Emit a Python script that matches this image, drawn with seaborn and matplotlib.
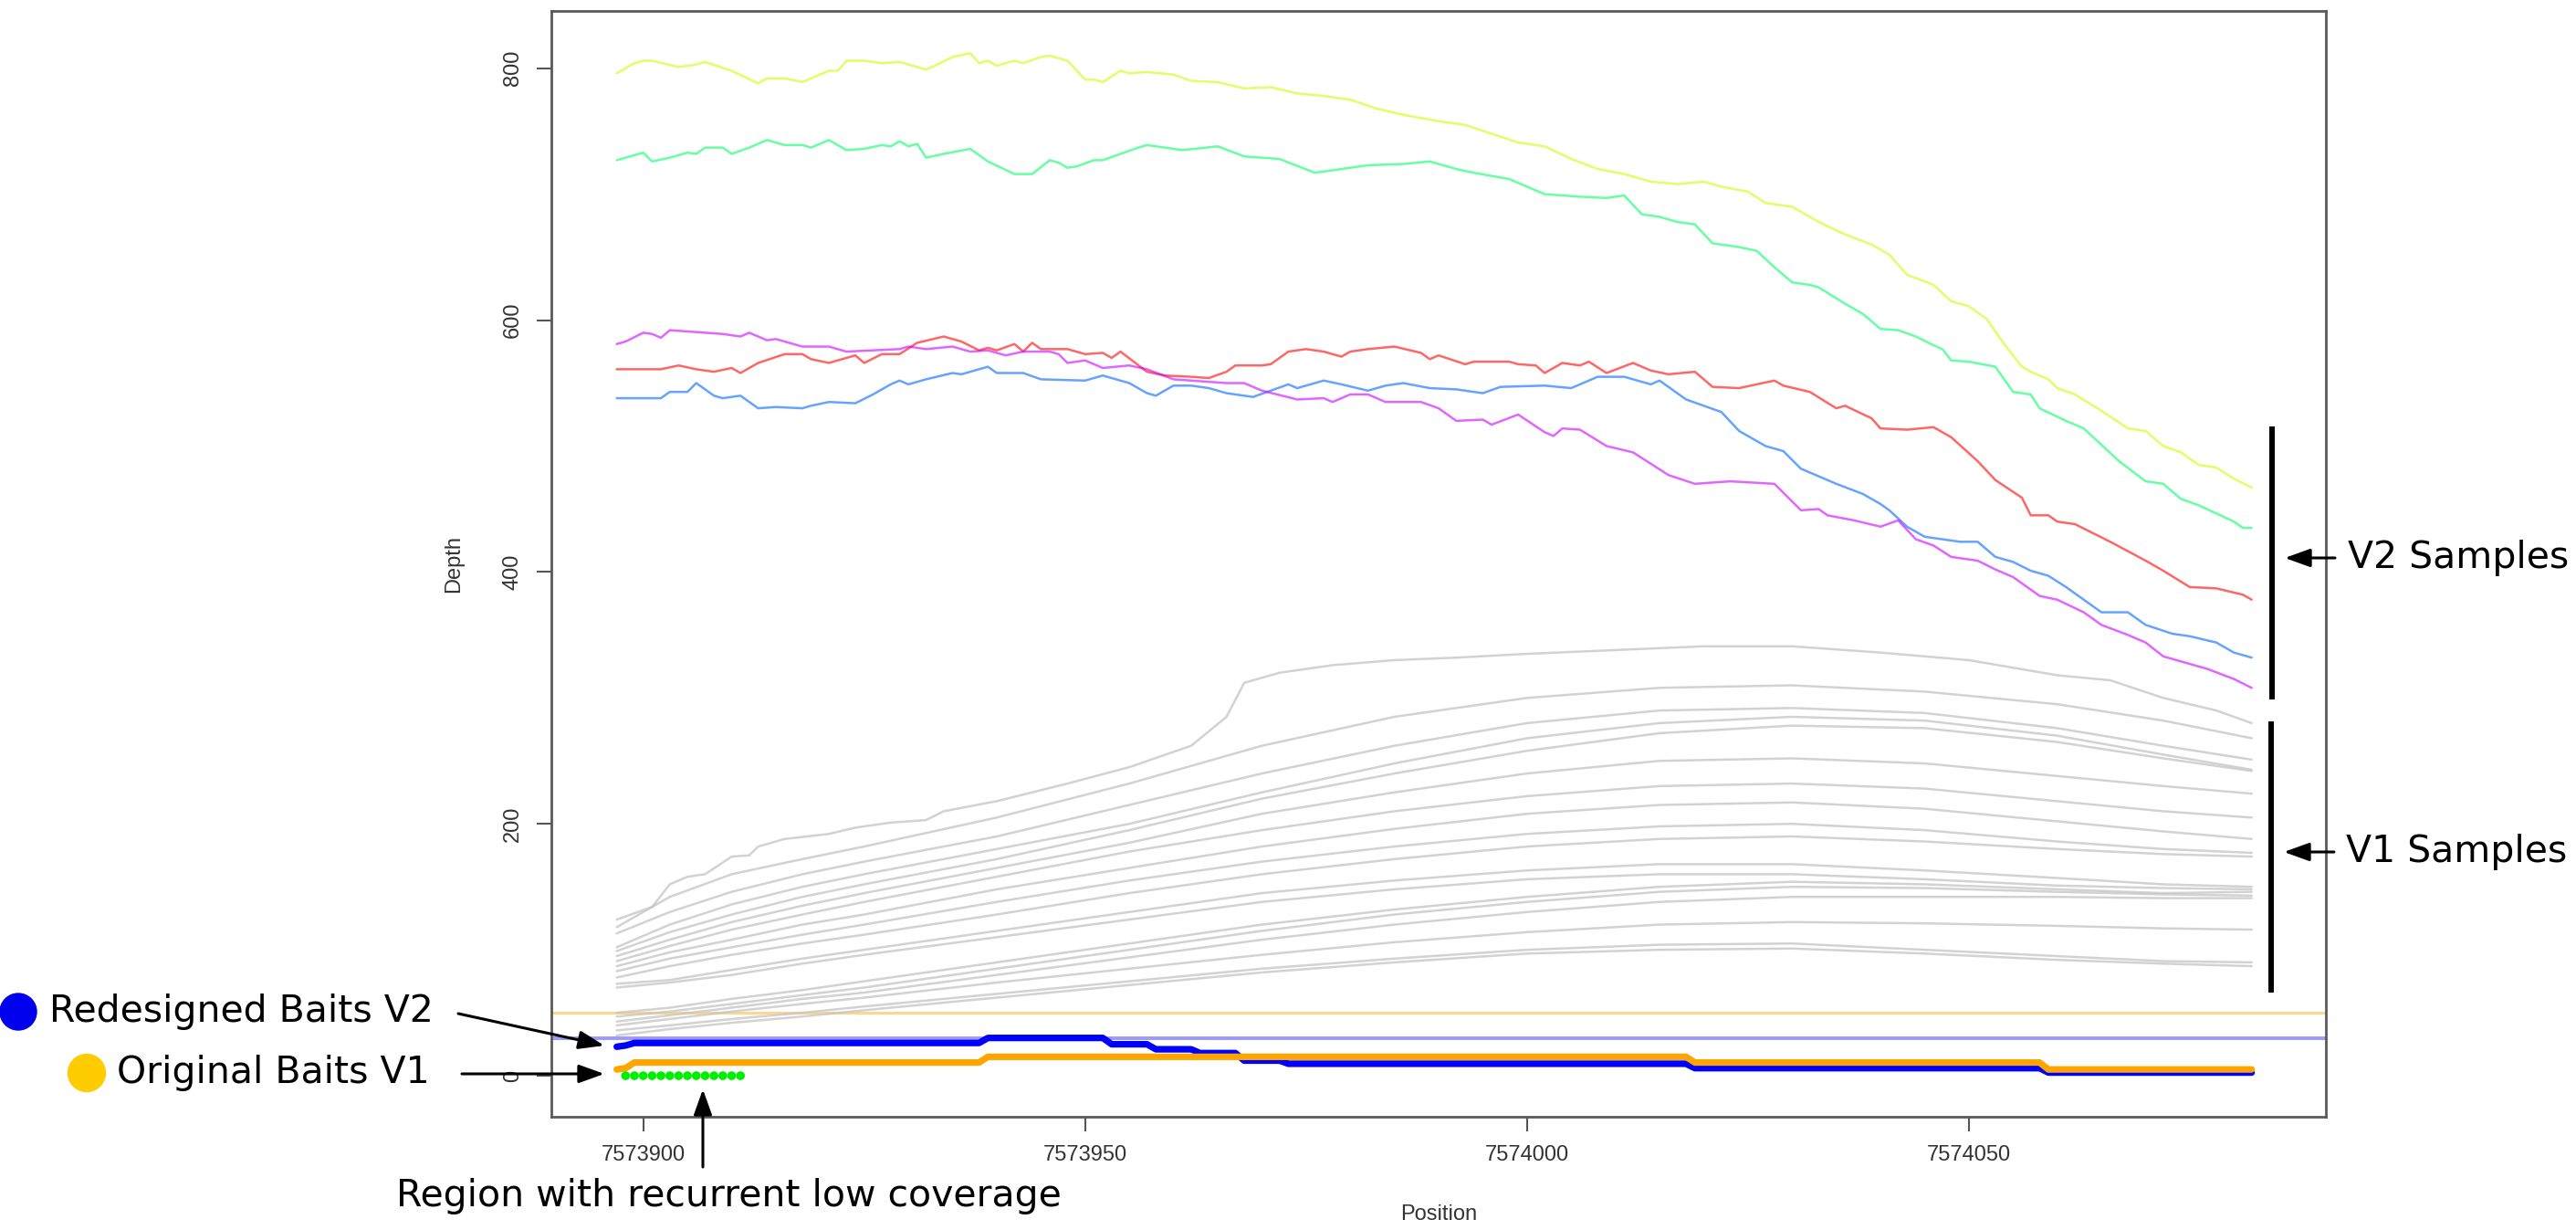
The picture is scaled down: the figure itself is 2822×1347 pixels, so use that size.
import numpy as np
import pandas as pd
import matplotlib
matplotlib.use('Agg')
import matplotlib.pyplot as plt
import seaborn as sns
from matplotlib.patches import Ellipse
from matplotlib.lines import Line2D

W, H = 2822, 1347

# ---- V2 samples (coloured lines) ----
yellow_pos = [7573897, 7573899, 7573900, 7573901, 7573904, 7573906, 7573907, 7573910, 7573913, 7573914,
              7573916, 7573918, 7573921, 7573922, 7573923, 7573925, 7573927, 7573929, 7573932, 7573933,
              7573935, 7573937, 7573938, 7573939, 7573940, 7573942, 7573943, 7573945, 7573946, 7573948,
              7573950, 7573951, 7573952, 7573954, 7573955, 7573957, 7573960, 7573962, 7573965, 7573968,
              7573971, 7573974, 7573977, 7573980, 7573983, 7573986, 7573990, 7573993, 7573996, 7573999,
              7574002, 7574005, 7574008, 7574011, 7574014, 7574017, 7574020, 7574022, 7574025, 7574027,
              7574030, 7574033, 7574036, 7574039, 7574041, 7574043, 7574046, 7574048, 7574050, 7574052,
              7574054, 7574056, 7574057, 7574059, 7574060, 7574062, 7574065, 7574068, 7574070, 7574072,
              7574074, 7574076, 7574078, 7574080, 7574082]
yellow_depth = [796, 804, 806, 806, 801, 803, 805, 798, 788, 792,
                792, 789, 798, 798, 806, 806, 804, 805, 799, 802,
                809, 812, 804, 806, 802, 806, 804, 809, 810, 806,
                791, 791, 789, 798, 796, 797, 795, 790, 789, 784,
                785, 780, 778, 775, 768, 763, 758, 755, 748, 741,
                738, 728, 720, 716, 710, 708, 710, 706, 702, 693,
                690, 678, 668, 660, 652, 636, 628, 615, 611, 601,
                581, 563, 559, 553, 546, 541, 528, 514, 512, 500,
                495, 485, 483, 474, 467]

green_pos = [7573897, 7573900, 7573901, 7573903, 7573905, 7573906, 7573907, 7573909, 7573910, 7573912,
             7573914, 7573916, 7573918, 7573919, 7573921, 7573923, 7573925, 7573927, 7573928, 7573929,
             7573930, 7573931, 7573932, 7573934, 7573937, 7573939, 7573942, 7573944, 7573946, 7573947,
             7573948, 7573949, 7573951, 7573952, 7573954, 7573956, 7573957, 7573961, 7573965, 7573968,
             7573972, 7573976, 7573979, 7573982, 7573986, 7573989, 7573992, 7573994, 7573998, 7574002,
             7574006, 7574009, 7574011, 7574013, 7574015, 7574017, 7574019, 7574021, 7574024, 7574026,
             7574028, 7574030, 7574032, 7574033, 7574036, 7574038, 7574040, 7574042, 7574044, 7574046,
             7574047, 7574048, 7574050, 7574053, 7574055, 7574057, 7574058, 7574061, 7574063, 7574065,
             7574067, 7574070, 7574072, 7574074, 7574076, 7574080, 7574081, 7574082]
green_depth = [727, 733, 726, 729, 733, 732, 737, 737, 732, 737,
               743, 739, 739, 737, 743, 735, 736, 739, 738, 742,
               738, 740, 729, 732, 736, 726, 716, 716, 727, 725,
               721, 722, 727, 727, 732, 737, 739, 735, 738, 730,
               728, 717, 720, 723, 724, 726, 720, 717, 712, 700,
               698, 697, 699, 684, 682, 678, 676, 661, 658, 655,
               642, 630, 628, 626, 613, 605, 593, 592, 587, 580,
               577, 568, 567, 563, 543, 541, 530, 520, 514, 501,
               488, 472, 470, 458, 453, 440, 435, 435]

red_pos = [7573897, 7573902, 7573904, 7573906, 7573908, 7573910, 7573911, 7573913, 7573916, 7573918,
           7573919, 7573921, 7573923, 7573924, 7573925, 7573927, 7573929, 7573931, 7573934, 7573936,
           7573938, 7573939, 7573940, 7573942, 7573943, 7573944, 7573945, 7573948, 7573950, 7573952,
           7573953, 7573954, 7573957, 7573959, 7573962, 7573964, 7573966, 7573967, 7573970, 7573971,
           7573973, 7573975, 7573977, 7573979, 7573980, 7573982, 7573985, 7573988, 7573989, 7573990,
           7573993, 7573994, 7573998, 7573999, 7574001, 7574002, 7574004, 7574006, 7574007, 7574009,
           7574012, 7574014, 7574016, 7574019, 7574021, 7574024, 7574028, 7574029, 7574032, 7574035,
           7574036, 7574039, 7574040, 7574043, 7574046, 7574048, 7574051, 7574053, 7574056, 7574057,
           7574059, 7574060, 7574062, 7574066, 7574070, 7574072, 7574075, 7574078, 7574081, 7574082]
red_depth = [561, 561, 564, 561, 559, 562, 558, 566, 573, 573,
             569, 566, 570, 572, 566, 573, 573, 582, 587, 583,
             576, 578, 576, 581, 575, 582, 577, 577, 573, 574,
             570, 575, 559, 556, 555, 554, 559, 564, 564, 565,
             575, 577, 575, 571, 575, 577, 579, 574, 569, 572,
             565, 567, 567, 565, 564, 558, 566, 564, 567, 558,
             566, 560, 557, 559, 547, 546, 552, 548, 543, 530,
             532, 522, 514, 513, 515, 507, 488, 473, 459, 445,
             445, 440, 438, 424, 409, 401, 388, 387, 382, 378]

blue_pos = [7573897, 7573902, 7573903, 7573905, 7573906, 7573908, 7573909, 7573911, 7573913, 7573915,
            7573918, 7573919, 7573921, 7573924, 7573926, 7573928, 7573929, 7573930, 7573932, 7573935,
            7573936, 7573939, 7573940, 7573943, 7573945, 7573950, 7573952, 7573954, 7573955, 7573957,
            7573958, 7573960, 7573962, 7573964, 7573966, 7573969, 7573971, 7573973, 7573974, 7573977,
            7573979, 7573982, 7573984, 7573986, 7573989, 7573992, 7573995, 7573997, 7574002, 7574005,
            7574008, 7574011, 7574014, 7574015, 7574018, 7574022, 7574024, 7574027, 7574029, 7574031,
            7574035, 7574038, 7574040, 7574041, 7574043, 7574045, 7574049, 7574051, 7574053, 7574055,
            7574057, 7574059, 7574061, 7574065, 7574068, 7574070, 7574073, 7574075, 7574078, 7574080,
            7574082]
blue_depth = [538, 538, 543, 543, 550, 540, 538, 540, 530, 531,
              530, 532, 535, 534, 541, 549, 552, 549, 553, 558,
              557, 563, 558, 558, 553, 552, 556, 552, 550, 542,
              540, 548, 548, 546, 542, 539, 544, 549, 546, 552,
              549, 544, 548, 550, 546, 545, 542, 547, 548, 546,
              555, 555, 549, 552, 537, 527, 512, 500, 496, 482,
              470, 462, 454, 449, 436, 428, 424, 424, 412, 408,
              401, 397, 388, 368, 368, 358, 351, 349, 344, 336,
              332]

magenta_pos = [7573897, 7573898, 7573900, 7573901, 7573902, 7573903, 7573905, 7573907, 7573909, 7573911,
               7573912, 7573914, 7573915, 7573918, 7573921, 7573923, 7573926, 7573929, 7573930, 7573932,
               7573935, 7573937, 7573939, 7573941, 7573943, 7573946, 7573947, 7573948, 7573950, 7573952,
               7573955, 7573957, 7573960, 7573966, 7573968, 7573970, 7573974, 7573977, 7573978, 7573980,
               7573982, 7573984, 7573988, 7573990, 7573992, 7573995, 7573996, 7573999, 7574002, 7574003,
               7574004, 7574006, 7574009, 7574012, 7574016, 7574019, 7574023, 7574028, 7574031, 7574033,
               7574034, 7574037, 7574040, 7574042, 7574044, 7574046, 7574048, 7574051, 7574053, 7574055,
               7574058, 7574060, 7574063, 7574065, 7574068, 7574070, 7574072, 7574075, 7574077, 7574080,
               7574082]
magenta_depth = [581, 583, 590, 589, 586, 592, 591, 590, 589, 587,
                 590, 584, 585, 579, 579, 575, 576, 577, 579, 577,
                 579, 575, 576, 572, 575, 575, 573, 566, 568, 562,
                 564, 561, 553, 550, 550, 544, 537, 538, 535, 541,
                 541, 535, 535, 530, 520, 521, 517, 525, 511, 508,
                 514, 513, 500, 495, 477, 470, 472, 470, 449, 450,
                 445, 441, 436, 441, 426, 421, 412, 409, 402, 396,
                 381, 378, 368, 358, 350, 344, 333, 327, 323, 315,
                 308]

v2_colors = {'S1': '#CCFF00', 'S2': '#00FF66', 'S3': '#FF0000', 'S4': '#0066FF', 'S5': '#CC00FF'}

# ---- V1 samples (grey lines) ----
# top V1 sample, read in more detail
gray_top_pos = [7573897, 7573901, 7573903, 7573905, 7573907, 7573910, 7573912, 7573913, 7573916, 7573921,
                7573924, 7573928, 7573932, 7573934, 7573940, 7573948, 7573955, 7573962, 7573966, 7573968,
                7573972, 7573978, 7573985, 7573992, 7574000, 7574010, 7574020, 7574030, 7574040, 7574050,
                7574060, 7574066, 7574072, 7574078, 7574082]
gray_top_depth = [124, 134, 152, 158, 160, 174, 175, 182, 188, 192,
                  197, 201, 203, 210, 218, 232, 245, 262, 285, 312,
                  320, 326, 330, 332, 335, 338, 341, 341, 336, 330,
                  318, 314, 300, 290, 280]

# remaining V1 samples, depth at shared positions
gray_pos = [7573897, 7573903, 7573910, 7573918, 7573925, 7573940, 7573955, 7573970,
            7573985, 7574000, 7574015, 7574030, 7574045, 7574060, 7574072, 7574082]
gray_depths = [
    [118, 142, 160, 172, 182, 205, 232, 262, 285, 300, 308, 310, 305, 295, 282, 268],
    [113, 130, 146, 160, 170, 190, 215, 240, 262, 280, 290, 292, 288, 276, 262, 251],
    [102, 120, 136, 150, 160, 180, 200, 225, 248, 268, 280, 285, 282, 270, 255, 243],
    [99, 114, 128, 142, 152, 172, 195, 220, 240, 258, 272, 278, 276, 265, 252, 242],
    [95, 108, 122, 135, 145, 165, 185, 208, 225, 240, 250, 252, 248, 238, 230, 224],
    [91, 103, 116, 128, 138, 158, 178, 195, 210, 222, 230, 232, 228, 218, 210, 205],
    [87, 98, 108, 120, 128, 148, 165, 182, 196, 208, 215, 217, 212, 202, 194, 188],
    [83, 93, 102, 112, 120, 138, 155, 170, 182, 192, 198, 200, 195, 186, 180, 177],
    [78, 87, 96, 105, 112, 128, 145, 160, 172, 182, 188, 190, 186, 180, 176, 174],
    [73, 76, 84, 93, 100, 115, 130, 145, 155, 163, 168, 168, 163, 157, 152, 150],
    [70, 74, 80, 89, 96, 110, 124, 138, 148, 156, 160, 160, 156, 151, 149, 148],
    [50, 54, 61, 68, 75, 90, 105, 120, 132, 142, 150, 154, 152, 148, 145, 146],
    [47, 51, 57, 64, 70, 85, 100, 115, 128, 138, 146, 150, 149, 146, 144, 143],
    [43, 48, 54, 61, 66, 80, 94, 108, 120, 130, 138, 142, 142, 142, 141, 141],
    [40, 45, 51, 57, 62, 74, 85, 96, 106, 114, 120, 122, 121, 119, 117, 116],
    [36, 40, 45, 50, 55, 65, 75, 85, 93, 100, 104, 105, 100, 95, 91, 90],
    [32, 37, 42, 47, 52, 62, 72, 82, 90, 97, 100, 101, 97, 92, 89, 87],
]

# ---- bait coverage tracks ----
baits_v2_pos = [7573897, 7573898, 7573899, 7573938, 7573939, 7573952, 7573953, 7573957, 7573958,
                7573962, 7573963, 7573967, 7573968, 7573972, 7573973, 7574018, 7574019, 7574058,
                7574059, 7574082]
baits_v2_depth = [23, 24, 26, 26, 30, 30, 25, 25, 21, 21, 18, 18, 12, 12, 9.5, 9.5, 6, 6, 2.5, 2.5]
baits_v1_pos = [7573897, 7573898, 7573899, 7573938, 7573939, 7574018, 7574019, 7574058, 7574059, 7574082]
baits_v1_depth = [5, 6, 10.5, 10.5, 15, 15, 10.5, 10.5, 5, 5]

low_cov_pos = [7573898, 7573899, 7573900, 7573901, 7573902, 7573903, 7573904,
               7573905, 7573906, 7573907, 7573908, 7573909, 7573910, 7573911]
low_cov_depth = [0, 0, 0, 0, 0, 0, 0, 0, 0, 0, 0, 0, 0, 0]

v1_threshold = 50
v2_threshold = 30

x_ticks = [7573900, 7573950, 7574000, 7574050]
x_tick_labels = ['7573900', '7573950', '7574000', '7574050']
y_ticks = [0, 200, 400, 600, 800]
y_tick_labels = ['0', '200', '400', '600', '800']

# ---- build tables ----
v2_df = pd.concat([
    pd.DataFrame({'pos': yellow_pos, 'depth': yellow_depth, 'sample': 'S1'}),
    pd.DataFrame({'pos': green_pos, 'depth': green_depth, 'sample': 'S2'}),
    pd.DataFrame({'pos': red_pos, 'depth': red_depth, 'sample': 'S3'}),
    pd.DataFrame({'pos': blue_pos, 'depth': blue_depth, 'sample': 'S4'}),
    pd.DataFrame({'pos': magenta_pos, 'depth': magenta_depth, 'sample': 'S5'}),
], ignore_index=True)

gray_df = pd.concat(
    [pd.DataFrame({'pos': gray_top_pos, 'depth': gray_top_depth, 'sample': 'V1_top'})] +
    [pd.DataFrame({'pos': gray_pos, 'depth': d, 'sample': f'V1_{i}'})
     for i, d in enumerate(gray_depths)],
    ignore_index=True)

# ---- plot ----
sns.set_style('white')
plt.rcParams['font.family'] = ['Liberation Sans', 'DejaVu Sans']

fig = plt.figure(figsize=(W / 100, H / 100), dpi=100)
ax = fig.add_axes([604 / W, (H - 1223) / H, (2548 - 604) / W, (1223 - 12) / H])

ax.axhline(v1_threshold, color='#FFA500', alpha=0.45, lw=2.2, zorder=1)
ax.axhline(v2_threshold, color='#0000FF', alpha=0.4, lw=2.8, zorder=1)

sns.lineplot(data=gray_df, x='pos', y='depth', units='sample', estimator=None,
             color='#c4c4c4', lw=1.8, alpha=0.75, ax=ax, zorder=2)
sns.lineplot(data=v2_df, x='pos', y='depth', hue='sample', palette=v2_colors,
             estimator=None, lw=1.8, alpha=0.6, legend=False, ax=ax, zorder=3)

sns.lineplot(x=baits_v2_pos, y=baits_v2_depth, estimator=None, color='#0000FF', lw=5.2,
             solid_capstyle='round', solid_joinstyle='round', ax=ax, zorder=4)
sns.lineplot(x=baits_v1_pos, y=baits_v1_depth, estimator=None, color='#FFA500', lw=5.2,
             solid_capstyle='round', solid_joinstyle='round', ax=ax, zorder=5)
sns.scatterplot(x=low_cov_pos, y=low_cov_depth, color='#00EE00', s=48, edgecolor='none',
                ax=ax, zorder=6)

ax.set_xlim(7573889.6, 7574090.4)
ax.set_ylim(-32.6, 845.5)
ax.set_xticks(x_ticks)
ax.set_xticklabels(x_tick_labels)
ax.set_yticks(y_ticks)
ax.set_yticklabels(y_tick_labels, rotation=90, va='center')
ax.tick_params(axis='both', bottom=True, left=True, direction='out', length=11.5, width=1.5,
               color='#555555', labelsize=17, labelcolor='#333333', pad=11)

for sp in ax.spines.values():
    sp.set_visible(True)
    sp.set_color('#5a5a5a')
    sp.set_linewidth(2)

ax.set_xlabel('Position', fontsize=17, color='#333333')
ax.set_ylabel('Depth', fontsize=17, color='#333333')
ax.xaxis.set_label_coords(0.5, (1223 - 1330) / 1211)
ax.xaxis.label.set_va('center')
ax.yaxis.set_label_coords((497 - 604) / 1944, 0.5)
ax.yaxis.label.set_va('center')

# ---- annotations (figure pixel positions, top-left origin) ----
def P(x, y):
    return (x, H - y)

ann_font = dict(family='DejaVu Sans', fontsize=29.5, color='black')
arrow_style = dict(arrowstyle='-|>,head_length=0.5,head_width=0.18', color='black', lw=2.2,
                   mutation_scale=34, shrinkA=0, shrinkB=0)

def arrow(tail, tip):
    ax.annotate('', xy=P(*tip), xytext=P(*tail), xycoords='figure pixels',
                textcoords='figure pixels', arrowprops=arrow_style, annotation_clip=False)

fig.add_artist(Ellipse((20 / W, 1 - 1108 / H), 40 / W, 40 / H, transform=fig.transFigure,
                       color='#0000EE'))
fig.add_artist(Ellipse((95 / W, 1 - 1175 / H), 41 / W, 41 / H, transform=fig.transFigure,
                       color='#FFCC00'))
fig.text(54 / W, 1 - 1108 / H, 'Redesigned Baits V2', ha='left', va='center', **ann_font)
fig.text(128 / W, 1 - 1175 / H, 'Original Baits V1', ha='left', va='center', **ann_font)
fig.text(798 / W, 1 - 1310 / H, 'Region with recurrent low coverage', ha='center', va='center',
         **ann_font)
fig.text(2572 / W, 1 - 611 / H, 'V2 Samples', ha='left', va='center', **ann_font)
fig.text(2570 / W, 1 - 933 / H, 'V1 Samples', ha='left', va='center', **ann_font)

arrow((502, 1110), (662, 1145))
arrow((506, 1176), (662, 1176))
arrow((770, 1278), (770, 1193))
arrow((2558, 611), (2503, 611))
arrow((2557, 933), (2502, 933))

fig.add_artist(Line2D([2489 / W, 2489 / W], [1 - 467 / H, 1 - 766 / H], transform=fig.transFigure,
                      color='black', lw=4.3, solid_capstyle='butt'))
fig.add_artist(Line2D([2488 / W, 2488 / W], [1 - 790 / H, 1 - 1087 / H], transform=fig.transFigure,
                      color='black', lw=4.3, solid_capstyle='butt'))

fig.savefig('out.png', dpi=100)
